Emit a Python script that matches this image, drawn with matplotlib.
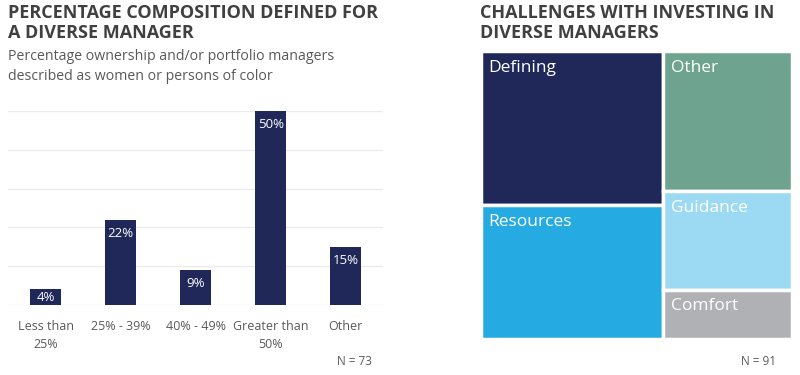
import matplotlib.pyplot as plt
from matplotlib.patches import Rectangle

plt.rcParams['font.family'] = ['Open Sans', 'DejaVu Sans']

# bar chart data
categories = ['Less than\n25%', '25% - 39%', '40% - 49%', 'Greater than\n50%', 'Other']
shares = [4, 22, 9, 50, 15]

# treemap data (two columns)
left_names = ['Defining', 'Resources']
left_values = [31, 27]
right_names = ['Other', 'Guidance', 'Comfort']
right_values = [20, 14, 7]
left_colors = ['#1F2859', '#25ABE2']
right_colors = ['#6EA38F', '#9CDAF4', '#B0B1B4']

navy = '#1F2859'
title_col = '#404040'
text_col = '#595959'

fig = plt.figure(figsize=(8, 3.75), dpi=100)

# titles
fig.text(0.01, 0.99, 'PERCENTAGE COMPOSITION DEFINED FOR\nA DIVERSE MANAGER',
         fontsize=13, fontweight='bold', color=title_col, va='top', ha='left',
         linespacing=1.15)
fig.text(0.01, 0.87, 'Percentage ownership and/or portfolio managers\ndescribed as women or persons of color',
         fontsize=10.2, color=text_col, va='top', ha='left', linespacing=1.45)
fig.text(0.60, 0.99, 'CHALLENGES WITH INVESTING IN\nDIVERSE MANAGERS',
         fontsize=13, fontweight='bold', color=title_col, va='top', ha='left',
         linespacing=1.15)

# bar chart
ax = fig.add_axes([0.01, 0.187, 0.469, 0.517])
x = range(len(categories))
bars = ax.bar(x, shares, width=0.41, color=navy, zorder=3)
for b, v in zip(bars, shares):
    # label near the top of the bar, centred when the bar is short
    ax.text(b.get_x() + b.get_width() / 2, max(v / 2, v - 3.6), f'{v}%', ha='center',
            va='center', color='white', fontsize=9.5, zorder=4)
ax.set_ylim(0, 50)
ax.set_xlim(-0.5, len(categories) - 0.5)
ax.set_yticks(range(0, 51, 10))
ax.yaxis.grid(True, color='#EBEBEB', linewidth=1, zorder=0)
ax.tick_params(axis='y', left=False, labelleft=False)
ax.tick_params(axis='x', length=0, labelsize=9, labelcolor=text_col, pad=11)
ax.set_xticks(list(x))
ax.set_xticklabels(categories, linespacing=1.45)
for s in ax.spines.values():
    s.set_visible(False)
fig.text(0.465, 0.035, 'N = 73', fontsize=8.5, color=text_col, ha='right', va='center')

# treemap
tm = fig.add_axes([0.601, 0.096, 0.389, 0.768])
tm.set_xlim(0, 1)
tm.set_ylim(0, 1)
tm.axis('off')
total = sum(left_values) + sum(right_values)
left_w = sum(left_values) / total
columns = [(0, left_w, left_names, left_values, left_colors),
           (left_w, 1 - left_w, right_names, right_values, right_colors)]
for x0, w, names, vals, cols in columns:
    top = 1.0
    csum = sum(vals)
    for n, v, c in zip(names, vals, cols):
        h = v / csum
        tm.add_patch(Rectangle((x0, top - h), w, h, facecolor=c, edgecolor='white',
                               linewidth=2.5))
        tm.text(x0 + 0.025, top - 0.03, n, color='white', fontsize=12.5, ha='left', va='top')
        top -= h
fig.text(0.97, 0.035, 'N = 91', fontsize=8.5, color=text_col, ha='right', va='center')

fig.savefig('out.png', dpi=100)
